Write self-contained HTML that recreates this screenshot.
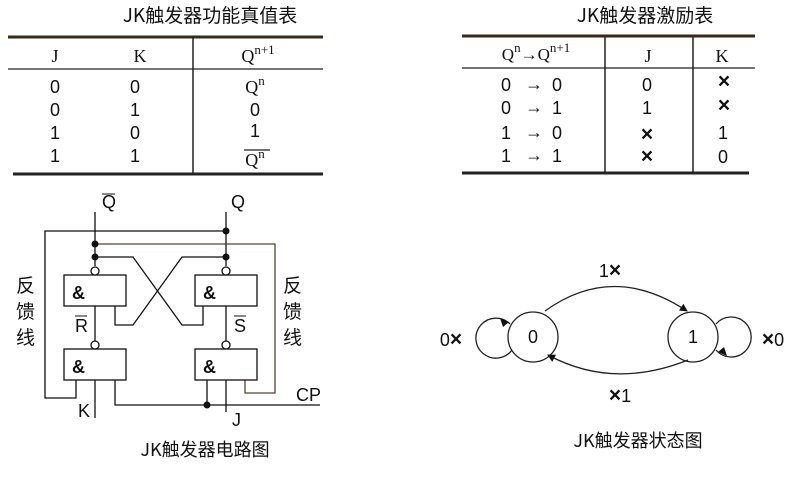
<!DOCTYPE html>
<html><head><meta charset="utf-8"><style>
html,body{margin:0;padding:0;background:#fff;width:800px;height:479px;overflow:hidden}
svg{display:block}
text{font-family:"Liberation Sans","Noto Sans CJK SC",sans-serif;fill:#111}
.m{font-family:"Liberation Serif","Noto Sans CJK SC",serif}
.cj{font-family:"Noto Sans CJK SC","WenQuanYi Zen Hei",sans-serif}
.x{font-size:21px;font-weight:bold}
</style></head><body>
<svg width="800" height="479" viewBox="0 0 800 479" xmlns="http://www.w3.org/2000/svg">
<defs><marker id="a" markerWidth="8" markerHeight="8" refX="7" refY="4" orient="auto" markerUnits="userSpaceOnUse"><path d="M0,0 L8,4 L0,8 z" fill="#111"/></marker></defs>
<!-- Table 1 -->
<text x="210" y="22" font-size="19" text-anchor="middle" class="cj">JK触发器功能真值表</text>
<g stroke="#222">
<line x1="8" y1="37" x2="323" y2="37" stroke-width="3" stroke="#3a2a1a"/>
<line x1="8" y1="69" x2="323" y2="69" stroke-width="1.2"/>
<line x1="193" y1="37" x2="193" y2="175" stroke-width="1.5"/>
<line x1="13" y1="174" x2="323" y2="174" stroke-width="3"/>
</g>
<g font-size="18" text-anchor="middle">
<text x="55" y="62" class="m">J</text><text x="140" y="62" class="m">K</text>
<text x="258" y="62" class="m">Q<tspan font-size="13" dy="-8">n+1</tspan></text>
<text x="55" y="93">0</text><text x="135" y="93">0</text><text x="255" y="93" class="m">Q<tspan font-size="13" dy="-8">n</tspan></text>
<text x="55" y="116">0</text><text x="135" y="116">1</text><text x="255" y="116">0</text>
<text x="55" y="139">1</text><text x="135" y="139">0</text><text x="255" y="137">1</text>
<text x="55" y="162">1</text><text x="135" y="162">1</text><text x="255" y="166" class="m">Q<tspan font-size="13" dy="-8">n</tspan></text>
</g>
<line x1="244" y1="150" x2="270" y2="150" stroke="#222" stroke-width="1.2"/>
<!-- Table 2 -->
<text x="645" y="22" font-size="19" text-anchor="middle" class="cj">JK触发器激励表</text>
<g stroke="#222">
<line x1="462" y1="36" x2="755" y2="36" stroke-width="3" stroke="#3a2a1a"/>
<line x1="462" y1="68" x2="755" y2="68" stroke-width="1.2"/>
<line x1="605" y1="36" x2="605" y2="174" stroke-width="1.5"/>
<line x1="693" y1="36" x2="693" y2="174" stroke-width="1.5"/>
<line x1="462" y1="173" x2="749" y2="173" stroke-width="3"/>
</g>
<g font-size="18" text-anchor="middle">
<text x="536" y="60" class="m" font-size="17">Q<tspan font-size="13" dy="-8">n</tspan><tspan dy="8">→Q</tspan><tspan font-size="13" dy="-8">n+1</tspan></text>
<text x="648" y="62" class="m">J</text><text x="722" y="62" class="m">K</text>
<text x="506" y="91">0</text><text x="534" y="90" font-weight="bold">→</text><text x="557" y="91">0</text>
<text x="506" y="114">0</text><text x="534" y="113" font-weight="bold">→</text><text x="557" y="114">1</text>
<text x="506" y="139">1</text><text x="534" y="138" font-weight="bold">→</text><text x="557" y="139">0</text>
<text x="506" y="162">1</text><text x="534" y="161" font-weight="bold">→</text><text x="557" y="162">1</text>
<text x="647" y="91">0</text><text x="647" y="114">1</text><text x="647" y="141" class="x">×</text><text x="647" y="163" class="x">×</text>
<text x="724" y="88" class="x">×</text><text x="724" y="112" class="x">×</text><text x="723" y="139">1</text><text x="723" y="163">0</text>
</g>
<!-- Circuit -->
<g stroke="#111" stroke-width="1.3" fill="none">
<line x1="95" y1="212" x2="95" y2="266"/>
<line x1="226" y1="212" x2="226" y2="266"/>
<polyline points="226,231 45,231 45,398 76,398 76,380"/>
<polyline points="95,244 275,244 275,393 245,393 245,380" stroke="#5a4030"/>
<polyline points="95,257 133,257 182,325 203,325 203,306"/>
<polyline points="226,257 182,257 133,325 115,325 115,306"/>
<rect x="64" y="275" width="62" height="31" fill="#fff"/>
<rect x="195" y="275" width="62" height="31" fill="#fff"/>
<rect x="64" y="349" width="62" height="31" fill="#fff"/>
<rect x="195" y="349" width="62" height="31" fill="#fff"/>
<line x1="95" y1="306" x2="95" y2="345"/>
<line x1="226" y1="306" x2="226" y2="345"/>
<circle cx="95" cy="271" r="4" fill="#fff"/><circle cx="226" cy="271" r="4" fill="#fff"/>
<circle cx="95" cy="345" r="4" fill="#fff"/><circle cx="226" cy="345" r="4" fill="#fff"/>
<line x1="95" y1="380" x2="95" y2="418"/>
<line x1="226" y1="380" x2="226" y2="412"/>
<polyline points="115,380 115,405 320,405"/>
<line x1="207" y1="380" x2="207" y2="405"/>
</g>
<g fill="#111">
<circle cx="226" cy="231" r="3.5"/><circle cx="95" cy="244" r="3.5"/><circle cx="95" cy="257" r="3.5"/><circle cx="226" cy="257" r="3.5"/><circle cx="207" cy="405" r="3.5"/>
</g>
<g font-size="18" font-weight="bold"><text x="72" y="299">&amp;</text><text x="203" y="299">&amp;</text><text x="72" y="373">&amp;</text><text x="203" y="373">&amp;</text></g>
<g font-size="18" class="m">
<text x="102" y="208">Q</text><line x1="102" y1="194" x2="115" y2="194" stroke="#111"/>
<text x="231" y="208">Q</text>
<text x="75" y="332">R</text><line x1="75" y1="316" x2="87" y2="316" stroke="#111"/>
<text x="234" y="332">S</text><line x1="234" y1="316" x2="246" y2="316" stroke="#111"/>
<text x="78" y="417">K</text><text x="232" y="426">J</text><text x="296" y="401">CP</text>
</g>
<g font-size="19" class="cj"><text x="16" y="292">反</text><text x="16" y="318">馈</text><text x="16" y="344">线</text>
<text x="283" y="292">反</text><text x="283" y="318">馈</text><text x="283" y="344">线</text></g>
<text x="205" y="456" font-size="18" text-anchor="middle" class="cj">JK触发器电路图</text>
<!-- State diagram -->
<g stroke="#222" stroke-width="1.3" fill="none">
<circle cx="533" cy="337" r="25"/><circle cx="693" cy="337" r="25"/>
<path d="M510,324 A20,20 0 1 0 512,350"/>
<path d="M716,324 A20,20 0 1 1 716,350"/>
<path d="M545,311 Q613,262 687,311" marker-end="url(#a)"/>
<path d="M688,360 Q613,390 548,355" marker-end="url(#a)"/>
</g>
<path d="M500,318 L509,322 L503,327 z" fill="#111"/>
<path d="M727,356 L718,352 L724,347 z" fill="#111"/>
<g font-size="18" text-anchor="middle">
<text x="533" y="343">0</text><text x="693" y="343">1</text>
<text x="610" y="277">1<tspan class="x">×</tspan></text><text x="620" y="402"><tspan class="x">×</tspan>1</text>
<text x="451" y="346">0<tspan class="x">×</tspan></text><text x="773" y="346"><tspan class="x">×</tspan>0</text>
</g>
<text x="638" y="447" font-size="18" text-anchor="middle" class="cj">JK触发器状态图</text>
</svg>
</body></html>
